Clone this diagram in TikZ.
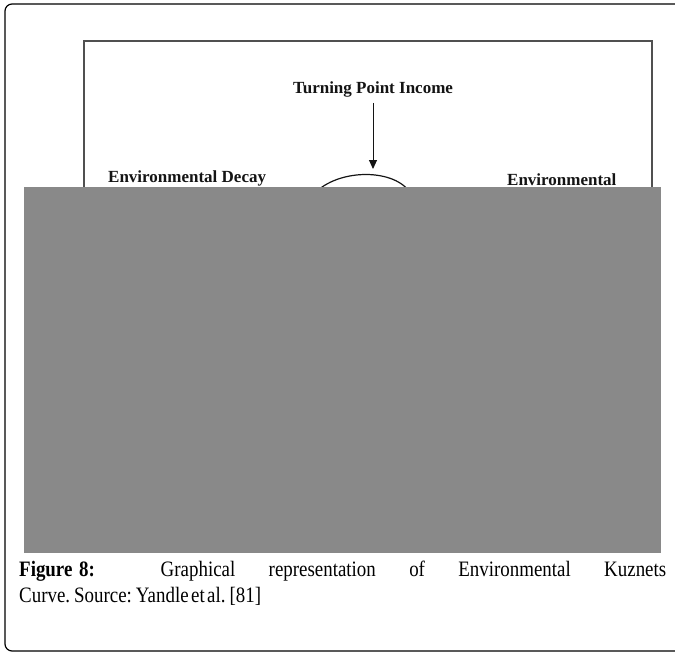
\documentclass[tikz,border=0pt]{standalone}
\usepackage{fontspec}
\setmainfont{Liberation Serif}
\newfontfamily\capfont[FakeStretch=0.86]{Liberation Serif}
\usetikzlibrary{arrows.meta}
\definecolor{greyblock}{RGB}{137,137,137}
\definecolor{framegrey}{RGB}{80,80,80}
\definecolor{inkblack}{RGB}{20,20,20}
\tikzset{
  lbl/.style={inner sep=0pt, text=inkblack, font=\bfseries\fontsize{17}{20}\selectfont},
  outerbox/.style={draw=black, line width=1.2pt, rounded corners=7pt},
  innerbox/.style={draw=framegrey, line width=2pt},
  pointer/.style={draw=inkblack, line width=1pt, -{Triangle[length=9pt,width=8pt]}},
  curve/.style={draw=inkblack, line width=1.2pt},
  captext/.style={anchor=base west, inner sep=0pt, text width=647pt, align=justify,
    font=\capfont\fontsize{22}{26}\selectfont}
}
\begin{document}
\begin{tikzpicture}[x=1pt,y=-1pt]
\useasboundingbox (0,0) rectangle (675,653);
\clip (0,0) rectangle (675,653);
\draw[outerbox] (700,4) -- (5,4) -- (5,651) -- (700,651);
\draw[innerbox] (84,41) rectangle (652,300);
\node[lbl, anchor=base] (tpi) at (373,93) {Turning Point Income};
\coordinate (tip) at (373,169);
\draw[pointer] ([yshift=-6pt]tpi.south) -- (tip);
\draw[curve] (314,194) .. controls (338,168) and (396,168) .. (411,194);
\node[lbl, anchor=base west] (decay) at (108,182) {Environmental Decay};
\node[lbl, anchor=base west] (env) at (507,185) {Environmental};
\fill[greyblock] (24,187) rectangle (661,553);
\node[captext] (cap) at (19,576) {\spaceskip=0.11em plus 3em\relax\textbf{Figure\hspace{0.3em}8:} Graphical representation of Environmental Kuznets\linebreak Curve. Source: Yandle et al. [81]};
\end{tikzpicture}
\end{document}
